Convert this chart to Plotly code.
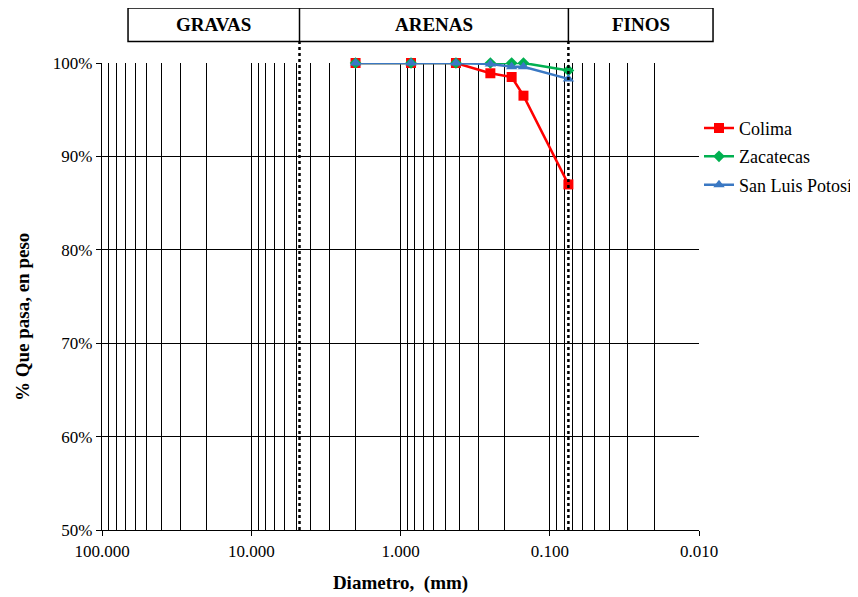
import math
import plotly.graph_objects as go

# ---- data ----
diametros_mm = [2.0, 0.85, 0.425, 0.25, 0.18, 0.15, 0.075]
colima = [100.0, 100.0, 100.0, 98.9, 98.5, 96.5, 87.0]
zacatecas = [100.0, 100.0, 100.0, 100.0, 100.0, 100.0, 99.2]
san_luis_potosi = [100.0, 100.0, 100.0, 99.9, 99.6, 99.6, 98.3]

x_tick_vals = [100, 10, 1, 0.1, 0.01]
x_tick_text = ["100.000", "10.000", "1.000", "0.100", "0.010"]
limite_grava_arena = 4.75
limite_arena_finos = 0.075
zonas = ["GRAVAS", "ARENAS", "FINOS"]

FONT = "Liberation Serif"
X_LOG_MAX, X_LOG_MIN = 2, -2  # 100 mm .. 0.01 mm (reversed)


def xpaper(d):
    return (X_LOG_MAX - math.log10(d)) / (X_LOG_MAX - X_LOG_MIN)


fig = go.Figure()
fig.add_trace(go.Scatter(
    x=diametros_mm, y=[v / 100 for v in colima], name="Colima",
    mode="lines+markers", line=dict(color="#FF0000", width=2.5),
    marker=dict(symbol="square", size=10, color="#FF0000"),
    cliponaxis=False, legendgroup="a"))
fig.add_trace(go.Scatter(
    x=diametros_mm, y=[v / 100 for v in zacatecas], name="Zacatecas",
    mode="lines+markers", line=dict(color="#00B050", width=2.5),
    marker=dict(symbol="diamond", size=9, color="#00B050"),
    cliponaxis=False, legendgroup="b"))
fig.add_trace(go.Scatter(
    x=diametros_mm, y=[v / 100 for v in san_luis_potosi], name="San Luis Potosí",
    mode="lines+markers", line=dict(color="#3A78C3", width=2.5),
    marker=dict(symbol="triangle-up", size=10, color="#3A78C3"),
    cliponaxis=False, legendgroup="c"))

minor_vals = [k * 10 ** e for e in range(-2, 2) for k in range(2, 10)]

fig.update_xaxes(
    type="log", range=[X_LOG_MAX, X_LOG_MIN], automargin=False,
    tickvals=x_tick_vals, ticktext=x_tick_text,
    showgrid=True, gridcolor="black", gridwidth=1.4,
    minor=dict(tickvals=minor_vals, showgrid=True, gridcolor="black",
               gridwidth=1.4, ticks=""),
    showline=True, linecolor="black", linewidth=1.4,
    ticks="outside", ticklen=5, tickcolor="black",
    tickfont=dict(family=FONT, size=17, color="black"),
    title=dict(text="<b>Diametro,  (mm)</b>",
               font=dict(family=FONT, size=19, color="black"), standoff=16),
    zeroline=False)
fig.update_yaxes(
    range=[0.5, 1.0], dtick=0.1, tickformat=".0%", automargin=False,
    showgrid=True, gridcolor="black", gridwidth=1.4,
    showline=True, linecolor="black", linewidth=1.4,
    ticks="outside", ticklen=5, tickcolor="black",
    tickfont=dict(family=FONT, size=17, color="black"),
    zeroline=False)

# header boxes and boundary lines
y_box_bottom, y_box_top = 1.046, 1.118
x_left, x_right = 0.0436, 1.0235
xa, xb = xpaper(limite_grava_arena), xpaper(limite_arena_finos)
shapes = [
    dict(type="rect", xref="paper", yref="paper", x0=x_left, x1=x_right,
         y0=y_box_bottom, y1=y_box_top, line=dict(color="black", width=1.5)),
    dict(type="line", xref="paper", yref="paper", x0=xa, x1=xa,
         y0=y_box_bottom, y1=y_box_top, line=dict(color="black", width=1.5)),
    dict(type="line", xref="paper", yref="paper", x0=xb, x1=xb,
         y0=y_box_bottom, y1=y_box_top, line=dict(color="black", width=1.5)),
    dict(type="line", xref="paper", yref="paper", x0=xa, x1=xa,
         y0=0, y1=y_box_bottom, line=dict(color="black", width=2.5, dash="dot")),
    dict(type="line", xref="paper", yref="paper", x0=xb, x1=xb,
         y0=0, y1=y_box_bottom, line=dict(color="black", width=2.5, dash="dot")),
]
centers = [(x_left + xa) / 2, (xa + xb) / 2, (xb + x_right) / 2]
annotations = [
    dict(text=f"<b>{z}</b>", x=c, y=(y_box_bottom + y_box_top) / 2,
         xref="paper", yref="paper", showarrow=False,
         font=dict(family=FONT, size=19, color="black"),
         xanchor="center", yanchor="middle")
    for z, c in zip(zonas, centers)
]
annotations.append(dict(
    text="<b>% Que pasa, en peso</b>", x=-0.134, y=0.456,
    xref="paper", yref="paper", showarrow=False, textangle=-90,
    font=dict(family=FONT, size=19, color="black"),
    xanchor="center", yanchor="middle"))

fig.update_layout(
    width=850, height=589,
    margin=dict(l=94, r=159, t=55, b=67, autoexpand=False),
    plot_bgcolor="white", paper_bgcolor="white",
    shapes=shapes, annotations=annotations,
    legend=dict(x=1.0, y=0.9, xanchor="left", yanchor="top",
                font=dict(family=FONT, size=18, color="black"),
                tracegroupgap=2, bgcolor="rgba(0,0,0,0)"),
    showlegend=True,
)

fig.write_html("out.html")
